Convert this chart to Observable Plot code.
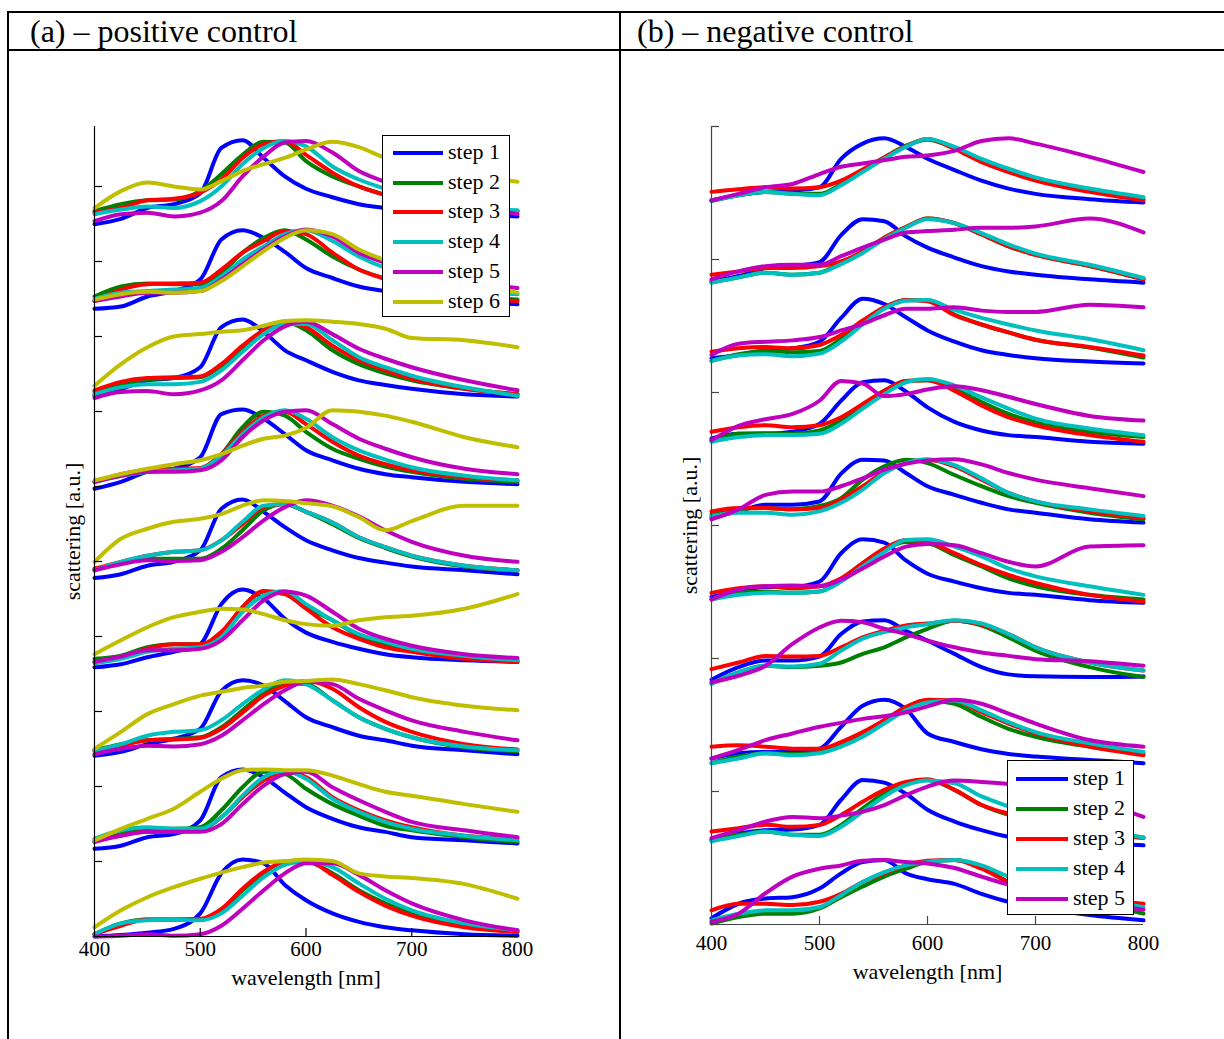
<!DOCTYPE html>
<html><head><meta charset="utf-8">
<script src="https://cdn.jsdelivr.net/npm/d3@7"></script>
<script src="https://cdn.jsdelivr.net/npm/@observablehq/plot@0.6"></script>
<style>
body{margin:0;background:#fff;font-family:"Liberation Serif","Times New Roman",serif;}
#root{position:relative;width:1224px;height:1039px;overflow:hidden;background:#fff;}
.line{position:absolute;background:#000;z-index:5;}
.title{position:absolute;font-size:32px;line-height:1;white-space:nowrap;color:#000;}
.panel{position:absolute;}
.legend{position:absolute;border:1px solid #000;background:#fff;z-index:3;box-sizing:border-box;}
.legend .sw{position:absolute;height:4px;}
.legend .lt{position:absolute;font-size:22px;line-height:1;white-space:nowrap;}
</style></head><body><div id="root"></div>
<script>
// ---------- data ----------
const wavelengths = [400,425,450,475,500,520,540,560,580,600,625,650,675,700,750,800];
const stepNames = ["step 1","step 2","step 3","step 4","step 5","step 6"];
const stepColors = ["#0000ff","#008000","#ff0000","#00bfbf","#bf00bf","#bfbf00"];
const xTicks = [400,500,600,700,800];
const posYTicks = [1,2,3,4,5,6,7,8,9,10];
const negYTicks = [0,1,2,3,4,5,6];
const panelTitles = ["(a) \u2013 positive control","(b) \u2013 negative control"];
const xLabel = "wavelength [nm]";
const yLabel = "scattering [a.u.]";

// positive control: 9 spectra groups (top to bottom), steps 1..6, normalized % of group height
const pos1 = [
 [-10,-3,11,16,30,89,99,76,52,36,25,16,11,7,3,0],
 [7,16,21,22,33,55,80,97,96,72,52,39,28,20,12,7],
 [5,11,21,23,31,48,76,94,98,80,57,39,28,20,11,7],
 [3,9,13,11,20,39,68,89,98,91,65,48,36,26,13,8],
 [-6,3,5,0,5,20,52,78,96,98,83,59,45,35,18,3],
 [11,33,44,39,35,46,59,68,76,87,97,90,76,68,55,45]];
const pos2 = [
 [-3,0,13,20,35,87,99,89,71,50,37,26,20,13,7,3],
 [13,26,30,29,29,44,70,89,99,87,65,48,36,26,16,9],
 [7,22,29,30,31,48,70,85,98,94,70,48,36,26,13,7],
 [10,18,20,22,24,39,61,78,94,99,85,65,50,39,22,16],
 [7,13,18,18,20,35,55,74,91,100,91,70,57,48,33,24],
 [9,16,19,18,20,33,52,72,89,99,94,74,60,48,31,18]];
const pos3 = [
 [1,10,21,24,38,90,100,84,60,47,32,21,15,10,3,0],
 [6,16,22,24,25,40,64,86,97,86,60,42,30,21,10,3],
 [8,19,24,25,26,42,66,86,97,90,66,47,34,23,10,3],
 [3,12,16,16,19,34,58,81,94,94,73,51,38,27,12,1],
 [-2,6,7,3,8,21,47,73,91,97,81,62,49,38,21,8],
 [14,42,64,78,81,84,86,92,98,99,97,94,88,76,73,64]];
const pos4 = [
 [-3,6,19,23,38,94,100,88,68,47,34,23,16,12,6,3],
 [6,14,19,21,23,42,77,97,92,71,49,36,26,19,10,6],
 [6,16,21,23,24,42,71,92,97,81,58,40,29,21,12,8],
 [6,14,19,21,23,40,68,90,99,88,64,47,35,25,14,8],
 [6,14,19,19,21,34,64,86,97,99,81,62,49,38,23,16],
 [8,16,23,29,34,42,53,62,66,76,99,97,92,84,64,51]];
const pos5 = [
 [-2,3,14,19,34,88,100,84,64,47,34,24,18,13,8,3],
 [9,17,23,23,23,36,60,86,94,84,68,50,37,26,13,8],
 [10,19,27,32,34,47,68,90,94,84,70,51,38,27,14,8],
 [8,19,27,32,34,47,71,92,94,84,70,51,38,27,14,8],
 [8,16,21,20,21,32,51,73,90,99,92,78,60,45,27,19],
 [19,49,62,71,75,81,92,99,98,95,91,77,60,72,92,92]];
const pos6 = [
 [-1,3,12,19,29,81,100,88,62,44,32,23,16,12,8,6],
 [10,14,25,29,29,42,77,97,94,77,60,40,29,23,12,8],
 [6,12,23,29,29,45,77,98,94,75,51,36,25,19,10,6],
 [4,10,19,23,25,38,71,92,98,81,60,42,32,23,14,8],
 [6,13,21,21,23,34,60,86,97,92,71,49,36,27,16,11],
 [16,34,51,64,71,75,74,68,60,55,53,60,64,66,75,94]];
const pos7 = [
 [1,6,16,23,36,85,99,92,72,51,38,27,21,14,8,3],
 [8,16,21,23,25,38,60,82,95,94,73,51,36,25,12,7],
 [8,14,21,22,24,36,57,79,92,98,88,64,45,32,16,9],
 [7,16,27,32,34,47,68,87,99,94,73,51,36,25,13,8],
 [3,10,14,13,16,27,47,68,86,97,94,75,60,47,32,21],
 [10,32,55,68,79,84,89,92,97,98,100,94,86,77,66,60]];
const pos8 = [
 [-3,1,12,16,34,90,100,90,70,51,36,25,19,12,8,4],
 [6,16,23,23,25,47,77,97,94,75,55,40,27,21,12,6],
 [8,14,19,19,21,38,64,86,97,90,64,47,34,25,14,10],
 [10,21,25,23,23,38,66,90,98,88,62,45,32,23,14,8],
 [6,14,19,19,19,29,55,79,94,97,77,60,45,32,21,12],
 [8,23,36,49,71,88,99,100,99,99,92,81,71,66,55,45]];
const pos9 = [
 [0,2,5,10,30,82,100,95,67,47,30,19,12,8,3,1],
 [3,17,22,22,22,34,60,82,95,97,82,60,43,30,14,6],
 [3,14,22,22,23,36,62,84,97,99,80,58,40,27,12,6],
 [3,17,21,22,21,30,53,77,93,98,90,69,49,34,17,8],
 [0,1,3,1,3,14,36,60,82,95,95,80,60,43,21,8],
 [12,34,51,64,75,83,90,96,98,100,98,82,78,76,68,49]];

// negative control: 10 spectra groups (top to bottom), steps 1..5
const neg1 = [
 [5,13,18,20,25,68,91,99,86,68,51,35,23,15,7,2],
 [5,13,18,15,15,30,50,70,88,97,84,65,50,37,20,7],
 [18,22,25,23,25,35,52,70,87,98,83,63,48,35,18,5],
 [4,13,18,15,13,28,48,68,86,98,86,68,53,40,23,10],
 [5,15,25,30,45,56,61,66,71,73,80,95,99,91,71,48]];
const neg2 = [
 [4,12,24,27,33,74,98,95,72,55,40,27,19,14,7,2],
 [2,10,17,14,17,32,49,70,86,99,92,75,57,44,27,7],
 [14,19,24,24,27,34,49,70,86,99,92,75,57,44,27,7],
 [2,10,17,14,17,30,47,68,85,98,92,77,60,46,29,9],
 [7,19,27,29,29,42,55,67,78,80,82,85,85,87,99,78]];
const neg3 = [
 [9,14,21,24,34,70,99,91,71,51,34,21,14,9,4,1],
 [5,15,20,18,20,38,62,85,97,96,75,60,48,37,25,10],
 [19,24,26,24,29,44,66,86,97,95,74,60,48,37,26,13],
 [5,13,15,12,16,34,60,84,96,97,82,70,60,51,38,21],
 [14,31,34,36,41,51,61,74,84,84,86,81,79,79,90,86]];
const neg4 = [
 [9,16,16,19,31,66,94,97,80,56,34,21,14,11,4,1],
 [6,16,17,16,21,36,59,81,96,97,84,64,46,34,19,11],
 [19,26,29,26,29,41,61,81,96,97,81,59,41,29,14,4],
 [4,11,14,14,16,31,54,76,94,99,89,71,54,39,24,14],
 [6,28,38,46,66,96,92,73,76,83,88,82,72,61,43,36]];
const neg5 = [
 [10,20,30,30,35,77,98,97,78,58,45,33,23,18,8,3],
 [15,23,25,23,28,40,68,88,98,93,75,58,43,33,18,8],
 [20,25,25,23,25,38,58,80,93,98,88,68,48,35,20,10],
 [13,18,18,15,20,33,53,78,93,99,90,70,48,35,23,13],
 [8,23,45,50,50,58,70,83,92,97,99,91,78,68,55,43]];
const neg6 = [
 [12,20,27,27,35,78,99,94,67,47,35,25,18,15,7,3],
 [8,18,20,18,20,38,63,83,95,93,75,58,40,28,15,8],
 [18,25,28,25,28,40,63,85,98,95,78,60,45,33,15,5],
 [8,15,18,18,20,35,58,80,98,99,88,73,55,43,28,15],
 [8,23,28,29,28,38,55,73,88,92,90,78,65,58,88,90]];
const neg7 = [
 [8,27,37,37,43,77,96,98,82,67,47,27,16,13,12,13],
 [2,19,29,27,29,34,47,57,72,85,97,90,72,52,27,12],
 [24,34,44,43,44,57,72,82,90,93,97,91,77,57,34,22],
 [2,19,29,28,32,52,70,80,87,92,98,93,77,57,34,22],
 [4,14,29,62,87,97,95,85,77,67,57,49,44,39,36,29]];
const neg8 = [
 [10,18,20,20,25,58,90,99,85,48,35,24,17,13,8,3],
 [3,13,18,17,20,33,48,68,88,98,93,73,55,43,28,18],
 [28,30,28,25,25,35,50,68,88,99,98,80,63,48,28,15],
 [3,10,18,15,18,28,43,63,83,95,98,83,65,50,33,20],
 [10,23,38,48,58,64,70,74,80,89,99,93,78,63,38,28]];
const neg9 = [
 [8,18,23,24,31,69,99,95,78,54,36,23,13,9,4,0],
 [8,16,21,16,16,31,56,79,94,99,84,61,46,36,21,11],
 [21,26,31,28,31,46,66,84,96,100,84,61,48,38,23,12],
 [6,14,21,16,14,28,51,74,91,98,94,74,59,46,28,12],
 [11,23,36,43,41,45,51,61,76,89,98,96,93,88,70,43]];
const neg10 = [
 [11,33,41,43,56,79,96,99,79,70,63,48,36,28,16,8],
 [3,13,18,18,26,43,59,74,86,96,99,89,66,54,36,18],
 [23,33,33,31,36,48,66,79,91,98,99,86,66,54,41,33],
 [8,18,23,23,28,46,66,81,91,96,99,91,74,59,41,28],
 [6,18,49,74,86,91,98,99,96,94,87,74,62,54,36,24]];

const posGroups = [pos1,pos2,pos3,pos4,pos5,pos6,pos7,pos8,pos9];
const negGroups = [neg1,neg2,neg3,neg4,neg5,neg6,neg7,neg8,neg9,neg10];

// ---------- build ----------
function tidy(groups, spacing, height, base) {
  const n = groups.length, out = [];
  groups.forEach((g, gi) => {
    const off = base + (n - 1 - gi) * spacing;
    g.forEach((vals, si) => {
      vals.forEach((v, j) => out.push({wl: wavelengths[j], y: off + v / 100 * height, step: si, key: gi * 10 + si}));
    });
  });
  return out;
}

const root = document.getElementById("root");
function addLine(l, t, w, h) {
  const d = document.createElement("div"); d.className = "line";
  Object.assign(d.style, {left: l + "px", top: t + "px", width: w + "px", height: h + "px"});
  root.appendChild(d);
}
addLine(7, 11, 1217, 2);
addLine(7, 49, 1217, 2);
addLine(7, 11, 2, 1028);
addLine(619, 11, 2, 1028);

function addTitle(text, l) {
  const d = document.createElement("div"); d.className = "title";
  d.style.left = l + "px"; d.style.top = "15px"; d.textContent = text; root.appendChild(d);
}
addTitle(panelTitles[0], 30);
addTitle(panelTitles[1], 637);

function panel(opts) {
  const {groups, spacing, height, base, yDomain, yTicks, nSteps, left, width, margins, axisColor,
         tickPad, xLabelDy, yLabelDx, xTickLen, yTickLen} = opts;
  const data = tidy(groups, spacing, height, base);
  const p = Plot.plot({
    width, height: 940,
    marginLeft: margins[0], marginRight: margins[1], marginTop: margins[2], marginBottom: margins[3],
    style: {fontFamily: "Liberation Serif, Times New Roman, serif", fontSize: "21px", color: "#000", background: "transparent", overflow: "visible"},
    x: {domain: [400, 800], axis: null},
    y: {domain: yDomain, axis: null},
    color: {type: "ordinal", domain: d3.range(nSteps), range: stepColors.slice(0, nSteps)},
    marks: [
      Plot.line(data, {x: "wl", y: "y", z: "key", stroke: "step", strokeWidth: 4, curve: "monotone-x"}),
      Plot.ruleX([400], {stroke: axisColor, strokeWidth: 1.2}),
      Plot.ruleY([yDomain[0]], {stroke: axisColor, strokeWidth: 1.2}),
      Plot.ruleY(yTicks, {y: d => d, x1: 400, x2: 400 + yTickLen, stroke: axisColor, strokeWidth: 1.2}),
      Plot.ruleX(xTicks.slice(1, -1), {x: d => d, y1: yDomain[0], y2: yDomain[0] + xTickLen, stroke: axisColor, strokeWidth: 1.2}),
      Plot.axisX(xTicks, {anchor: "bottom", tickSize: 0, tickPadding: tickPad, fontSize: 21, label: null}),
      Plot.text([xLabel], {frameAnchor: "bottom", lineAnchor: "middle", dy: xLabelDy, fontSize: 22}),
      Plot.text([yLabel], {frameAnchor: "left", textAnchor: "middle", lineAnchor: "middle", dx: yLabelDx, rotate: -90, fontSize: 22})
    ]
  });
  const wrap = document.createElement("div"); wrap.className = "panel";
  wrap.style.left = left + "px"; wrap.style.top = "60px";
  wrap.appendChild(p); root.appendChild(wrap);
}

panel({groups: posGroups, spacing: 1.2, height: 1.027, base: 0, yDomain: [0, 10.8], yTicks: posYTicks, nSteps: 6,
  left: 0, width: 620, margins: [94, 103, 66, 64], axisColor: "#000", tickPad: 5, xLabelDy: 41, yLabelDx: -22,
  xTickLen: 0.107, yTickLen: 7.6});
panel({groups: negGroups, spacing: 0.603, height: 0.497, base: -0.008, yDomain: [0, 6], yTicks: negYTicks, nSteps: 5,
  left: 622, width: 602, margins: [89, 81, 66, 76], axisColor: "#444", tickPad: 11, xLabelDy: 47, yLabelDx: -22,
  xTickLen: 0.06, yTickLen: 7.4});

function legend(l, t, w, h, n, swL, swW, txL, row0, rowStep) {
  const d = document.createElement("div"); d.className = "legend";
  Object.assign(d.style, {left: l + "px", top: t + "px", width: w + "px", height: h + "px"});
  for (let i = 0; i < n; i++) {
    const cy = row0 + i * rowStep;
    const s = document.createElement("div"); s.className = "sw";
    Object.assign(s.style, {left: swL + "px", width: swW + "px", top: (cy - 2) + "px", background: stepColors[i]});
    const tx = document.createElement("div"); tx.className = "lt";
    Object.assign(tx.style, {left: txL + "px", top: (cy - 12) + "px"});
    tx.textContent = stepNames[i];
    d.appendChild(s); d.appendChild(tx);
  }
  root.appendChild(d);
}
legend(382, 135, 128, 182, 6, 10, 50, 65, 17, 29.7);
legend(1007, 760, 127, 155, 5, 8, 52, 65, 18, 30);
</script></body></html>
